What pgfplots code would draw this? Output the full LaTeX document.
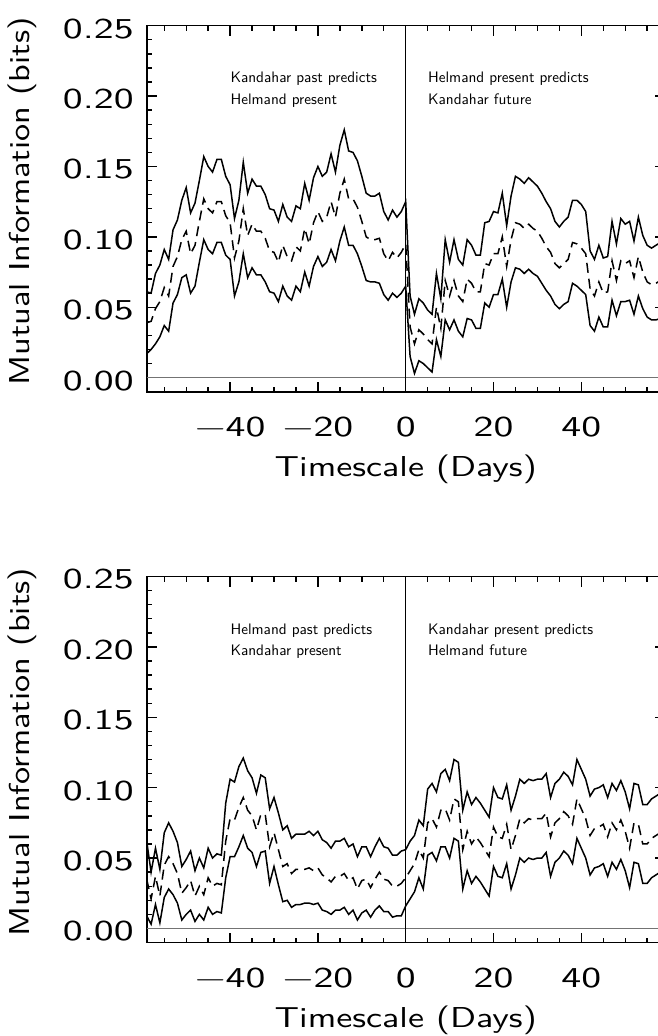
\documentclass[border=0pt]{standalone}
\usepackage{fontspec}
\setmainfont{lmsans10-regular}[Extension=.otf, FakeStretch=1.25]
\newfontfamily\annfont{lmsans10-regular}[Extension=.otf]
\newfontfamily\tickfont{lmsans10-regular}[Extension=.otf, FakeStretch=1.38]
\newfontfamily\ylabfont{lmsans10-regular}[Extension=.otf, FakeStretch=1.19]
\usepackage{pgfplots}
\usepackage{pgfplotstable}
\pgfplotsset{compat=1.18}

\pgfplotstableread{
d U M L
-59 0.061 0.039 0.017
-58 0.060 0.040 0.020
-57 0.074 0.049 0.024
-56 0.080 0.054 0.029
-55 0.091 0.064 0.037
-54 0.084 0.058 0.033
-53 0.105 0.079 0.053
-52 0.112 0.086 0.059
-51 0.126 0.098 0.071
-50 0.135 0.104 0.073
-49 0.117 0.088 0.060
-48 0.124 0.094 0.065
-47 0.140 0.111 0.082
-46 0.157 0.127 0.098
-45 0.150 0.120 0.091
-44 0.146 0.117 0.088
-43 0.155 0.125 0.096
-42 0.155 0.125 0.096
-41 0.143 0.115 0.087
-40 0.137 0.110 0.084
-39 0.113 0.085 0.058
-38 0.126 0.097 0.068
-37 0.153 0.120 0.088
-36 0.131 0.101 0.071
-35 0.141 0.109 0.078
-34 0.136 0.104 0.073
-33 0.136 0.104 0.073
-32 0.130 0.099 0.068
-31 0.120 0.090 0.061
-30 0.119 0.089 0.060
-29 0.111 0.082 0.054
-28 0.123 0.094 0.065
-27 0.114 0.086 0.058
-26 0.111 0.083 0.055
-25 0.122 0.093 0.065
-24 0.120 0.090 0.061
-23 0.138 0.106 0.075
-22 0.126 0.095 0.065
-21 0.142 0.110 0.079
-20 0.150 0.118 0.086
-19 0.143 0.111 0.079
-18 0.146 0.114 0.082
-17 0.159 0.125 0.091
-16 0.146 0.114 0.083
-15 0.165 0.131 0.097
-14 0.176 0.141 0.107
-13 0.161 0.127 0.094
-12 0.160 0.127 0.094
-11 0.154 0.121 0.088
-10 0.143 0.111 0.079
-9 0.131 0.100 0.069
-8 0.129 0.098 0.068
-7 0.129 0.098 0.068
-6 0.131 0.099 0.067
-5 0.118 0.088 0.059
-4 0.112 0.083 0.055
-3 0.119 0.089 0.060
-2 0.114 0.085 0.057
-1 0.118 0.089 0.060
0 0.125 0.095 0.065
1 0.058 0.036 0.015
2 0.045 0.024 0.003
3 0.056 0.034 0.012
4 0.053 0.031 0.010
5 0.048 0.027 0.007
6 0.045 0.024 0.004
7 0.074 0.050 0.027
8 0.056 0.035 0.015
9 0.098 0.069 0.041
10 0.082 0.058 0.034
11 0.098 0.069 0.041
12 0.084 0.058 0.033
13 0.080 0.054 0.029
14 0.098 0.070 0.042
15 0.094 0.067 0.041
16 0.087 0.061 0.035
17 0.087 0.061 0.035
18 0.110 0.081 0.053
19 0.111 0.080 0.050
20 0.118 0.088 0.059
21 0.117 0.088 0.059
22 0.131 0.100 0.070
23 0.108 0.079 0.050
24 0.129 0.098 0.068
25 0.143 0.110 0.078
26 0.141 0.109 0.077
27 0.138 0.106 0.074
28 0.142 0.109 0.077
29 0.139 0.106 0.074
30 0.136 0.104 0.072
31 0.131 0.099 0.067
32 0.125 0.093 0.062
33 0.120 0.089 0.058
34 0.111 0.081 0.052
35 0.107 0.078 0.049
36 0.111 0.081 0.052
37 0.114 0.084 0.054
38 0.126 0.096 0.067
39 0.126 0.095 0.065
40 0.123 0.092 0.062
41 0.118 0.088 0.059
42 0.090 0.063 0.037
43 0.084 0.058 0.033
44 0.094 0.068 0.043
45 0.085 0.060 0.036
46 0.086 0.061 0.036
47 0.111 0.083 0.055
48 0.095 0.069 0.044
49 0.113 0.083 0.054
50 0.109 0.081 0.054
51 0.111 0.083 0.055
52 0.097 0.071 0.045
53 0.114 0.086 0.058
54 0.101 0.075 0.049
55 0.094 0.068 0.043
56 0.092 0.066 0.041
57 0.094 0.067 0.041
58 0.096 0.069 0.042
59 0.095 0.069 0.043
}\topdata

\pgfplotstableread{
d U M L
-59 0.062 0.035 0.009
-58 0.040 0.021 0.003
-57 0.057 0.037 0.017
-56 0.042 0.023 0.004
-55 0.068 0.045 0.022
-54 0.075 0.051 0.028
-53 0.069 0.046 0.024
-52 0.061 0.039 0.018
-51 0.044 0.025 0.006
-50 0.049 0.029 0.010
-49 0.055 0.034 0.013
-48 0.041 0.023 0.005
-47 0.050 0.030 0.010
-46 0.043 0.024 0.006
-45 0.057 0.036 0.015
-44 0.050 0.030 0.010
-43 0.053 0.032 0.012
-42 0.052 0.031 0.011
-41 0.089 0.062 0.036
-40 0.106 0.078 0.051
-39 0.104 0.077 0.051
-38 0.115 0.086 0.058
-37 0.121 0.093 0.066
-36 0.112 0.084 0.057
-35 0.107 0.080 0.054
-34 0.096 0.070 0.044
-33 0.109 0.081 0.054
-32 0.107 0.081 0.055
-31 0.085 0.058 0.032
-30 0.093 0.068 0.044
-29 0.082 0.056 0.031
-28 0.070 0.044 0.019
-27 0.073 0.046 0.020
-26 0.064 0.039 0.015
-25 0.067 0.042 0.017
-24 0.067 0.042 0.017
-23 0.067 0.042 0.018
-22 0.069 0.043 0.018
-21 0.066 0.041 0.017
-20 0.069 0.043 0.018
-19 0.063 0.038 0.013
-18 0.061 0.036 0.012
-17 0.057 0.033 0.010
-16 0.062 0.037 0.013
-15 0.062 0.037 0.013
-14 0.064 0.039 0.015
-13 0.058 0.034 0.010
-12 0.060 0.036 0.013
-11 0.051 0.028 0.006
-10 0.058 0.034 0.011
-9 0.058 0.035 0.013
-8 0.051 0.029 0.008
-7 0.058 0.035 0.013
-6 0.064 0.040 0.016
-5 0.058 0.035 0.012
-4 0.057 0.034 0.012
-3 0.052 0.030 0.008
-2 0.052 0.030 0.009
-1 0.055 0.032 0.009
0 0.056 0.036 0.016
1 0.062 0.041 0.021
2 0.066 0.046 0.026
3 0.077 0.056 0.036
4 0.073 0.050 0.028
5 0.099 0.075 0.052
6 0.103 0.078 0.054
7 0.097 0.072 0.048
8 0.110 0.084 0.058
9 0.113 0.085 0.058
10 0.105 0.077 0.050
11 0.120 0.092 0.064
12 0.118 0.090 0.062
13 0.084 0.056 0.028
14 0.097 0.069 0.041
15 0.088 0.060 0.032
16 0.093 0.065 0.037
17 0.089 0.061 0.033
18 0.084 0.056 0.028
19 0.079 0.051 0.023
20 0.100 0.072 0.044
21 0.093 0.065 0.037
22 0.092 0.064 0.036
23 0.102 0.074 0.046
24 0.084 0.056 0.028
25 0.094 0.066 0.038
26 0.106 0.078 0.050
27 0.103 0.075 0.047
28 0.106 0.078 0.050
29 0.105 0.077 0.049
30 0.106 0.078 0.050
31 0.106 0.078 0.050
32 0.110 0.082 0.054
33 0.093 0.065 0.037
34 0.103 0.075 0.047
35 0.106 0.078 0.050
36 0.111 0.083 0.055
37 0.108 0.080 0.052
38 0.102 0.074 0.046
39 0.120 0.092 0.064
40 0.113 0.085 0.057
41 0.106 0.078 0.050
42 0.094 0.066 0.038
43 0.099 0.071 0.043
44 0.100 0.072 0.044
45 0.102 0.074 0.046
46 0.093 0.065 0.037
47 0.103 0.075 0.047
48 0.098 0.070 0.042
49 0.105 0.077 0.049
50 0.097 0.069 0.041
51 0.085 0.057 0.029
52 0.103 0.075 0.047
53 0.102 0.074 0.046
54 0.088 0.060 0.032
55 0.088 0.060 0.032
56 0.092 0.064 0.036
57 0.094 0.066 0.038
58 0.096 0.068 0.040
59 0.095 0.067 0.039
}\botdata

\pgfplotsset{
  mi/.style={
    scale only axis, width=259pt, height=183pt,
    xmin=-59, xmax=59, ymin=-0.01, ymax=0.25,
    xtick={-40,-20,0,20,40}, xticklabels={−40,−20,0,20,40},
    minor xtick={-55,-50,-45,-35,-30,-25,-15,-10,-5,5,10,15,25,30,35,45,50,55},
    ytick={0,0.05,0.1,0.15,0.2,0.25},
    yticklabels={0.00,0.05,0.10,0.15,0.20,0.25},
    minor y tick num=4,
    tick align=inside, major tick length=5pt, minor tick length=2.5pt,
    every tick/.style={black, line width=0.7pt},
    axis line style={line width=0.8pt},
    tick label style={font=\tickfont\fontsize{14.4}{17}\selectfont},
    xlabel style={font=\fontsize{14.4}{17}\selectfont},
    ylabel style={font=\ylabfont\fontsize{14.4}{17}\selectfont},
    yticklabel style={xshift=-3pt, yshift=-1.5pt},
    xticklabel style={yshift=-9pt},
    xlabel={Timescale (Days)}, ylabel={Mutual Information (bits)},
    xlabel style={at={(axis description cs:0.5,-0.213)}, anchor=center},
    ylabel style={at={(axis description cs:-0.2407,0.52)}, anchor=center},
    no markers, clip=true,
  },
}
\tikzset{ann/.style={anchor=base west, font=\annfont\fontsize{7.6}{9}\selectfont, inner sep=0pt}}

\begin{document}
\begin{tikzpicture}
\begin{axis}[mi, at={(73.35pt,-195.85pt)}, anchor=south west]
\addplot[black!55, line width=0.75pt] coordinates {(-59,0) (59,0)};
\addplot[black, line width=0.5pt] coordinates {(0,-0.01) (0,0.25)};
\addplot[black, line width=0.75pt] table[x=d,y=U] {\topdata};
\addplot[black, line width=0.75pt, dash pattern=on 5pt off 3pt] table[x=d,y=M] {\topdata};
\addplot[black, line width=0.75pt] table[x=d,y=L] {\topdata};
\node[ann] at (axis cs:-40,0.2094) {Kandahar past predicts};
\node[ann] at (axis cs:-40,0.1940) {Helmand present};
\node[ann] at (axis cs:5,0.2094) {Helmand present predicts};
\node[ann] at (axis cs:5,0.1940) {Kandahar future};
\end{axis}
\begin{axis}[mi, at={(73.35pt,-471.25pt)}, anchor=south west]
\addplot[black!55, line width=0.75pt] coordinates {(-59,0) (59,0)};
\addplot[black, line width=0.5pt] coordinates {(0,-0.01) (0,0.25)};
\addplot[black, line width=0.75pt] table[x=d,y=U] {\botdata};
\addplot[black, line width=0.75pt, dash pattern=on 5pt off 3pt] table[x=d,y=M] {\botdata};
\addplot[black, line width=0.75pt] table[x=d,y=L] {\botdata};
\node[ann] at (axis cs:-40,0.2090) {Helmand past predicts};
\node[ann] at (axis cs:-40,0.1940) {Kandahar present};
\node[ann] at (axis cs:5,0.2090) {Kandahar present predicts};
\node[ann] at (axis cs:5,0.1940) {Helmand future};
\end{axis}
\pgfresetboundingbox
\useasboundingbox (0,0) rectangle (328.5pt,-518pt);
\end{tikzpicture}
\end{document}
